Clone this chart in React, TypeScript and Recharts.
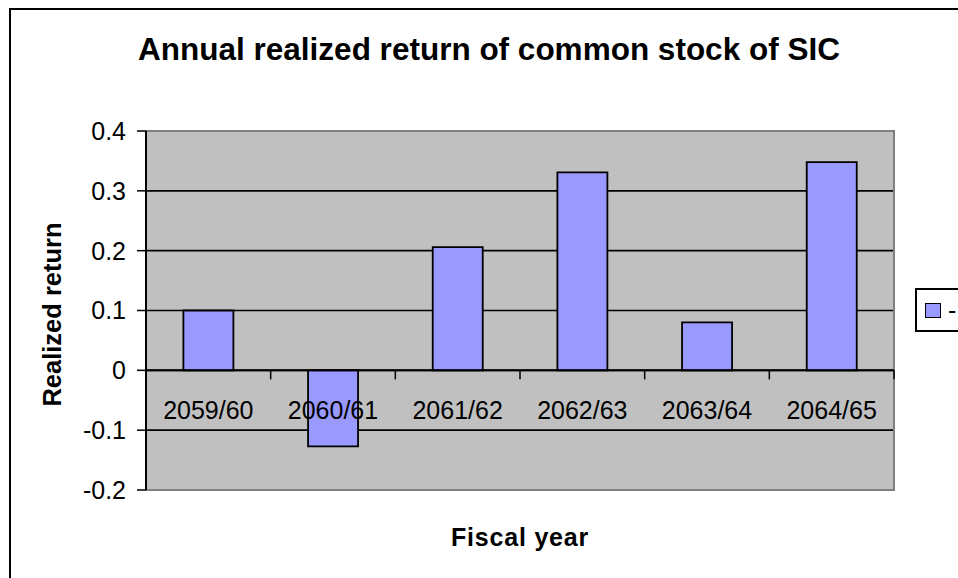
import { BarChart, Bar, XAxis, YAxis, CartesianGrid, ReferenceLine, ReferenceArea, Legend, Label } from 'recharts';

const years = ['2059/60', '2060/61', '2061/62', '2062/63', '2063/64', '2064/65'];
const realizedReturn = [0.1, -0.127, 0.206, 0.331, 0.08, 0.348];
const yTicks = [-0.2, -0.1, 0, 0.1, 0.2, 0.3, 0.4];
const seriesName = '-';

const data = years.map((year, i) => ({ year, value: realizedReturn[i] }));

const FONT = '"Liberation Sans", Arial, sans-serif';
const W = 958;
const H = 578;
const PLOT_TOP = 131;
const PLOT_LEFT = 146;
const PLOT_RIGHT = 894;
const PLOT_BOTTOM = 490;
const Y_MIN = yTicks[0];
const Y_MAX = yTicks[yTicks.length - 1];
// where the value 0 falls, so the category labels can hang off it
const ZERO_Y = PLOT_TOP + ((Y_MAX - 0) / (Y_MAX - Y_MIN)) * (PLOT_BOTTOM - PLOT_TOP);
const BAND = (PLOT_RIGHT - PLOT_LEFT) / years.length;

function YearTick(props: any) {
  const { x, index, payload } = props;
  const left = x - BAND / 2;
  return (
    <g>
      <line x1={left} x2={left} y1={ZERO_Y} y2={ZERO_Y + 9} stroke="#000" strokeWidth={1.5} />
      {index === years.length - 1 && (
        <line x1={left + BAND} x2={left + BAND} y1={ZERO_Y} y2={ZERO_Y + 9} stroke="#000" strokeWidth={1.5} />
      )}
      <text x={x} y={ZERO_Y + 40} textAnchor="middle" dominantBaseline="central" fontSize={25} fontFamily={FONT} fill="#000">
        {payload.value}
      </text>
    </g>
  );
}

function LegendBox(props: any) {
  const name = props.payload && props.payload[0] ? props.payload[0].value : seriesName;
  return (
    <div
      style={{
        boxSizing: 'border-box',
        width: 90,
        height: 44,
        border: '2px solid #000',
        background: '#fff',
        display: 'flex',
        alignItems: 'center',
        paddingLeft: 8,
        fontFamily: FONT,
        fontSize: 25,
        color: '#000',
      }}
    >
      <span
        style={{
          display: 'inline-block',
          boxSizing: 'border-box',
          width: 16,
          height: 15,
          background: '#9999FF',
          border: '1.5px solid #000',
          marginRight: 7,
        }}
      />
      <span>{name}</span>
    </div>
  );
}

export default function App() {
  return (
    <div style={{ position: 'absolute', left: 0, top: 0, width: W, height: H, overflow: 'hidden', background: '#fff' }}>
      <div
        style={{
          position: 'absolute',
          left: 9,
          top: 8,
          width: 2000,
          height: 2000,
          borderTop: '2px solid #000',
          borderLeft: '2px solid #000',
        }}
      />
      <div
        style={{
          position: 'absolute',
          left: 10,
          top: 34,
          width: W,
          textAlign: 'center',
          fontFamily: FONT,
          fontWeight: 'bold',
          fontSize: 31.5,
          lineHeight: 1,
          color: '#000',
        }}
      >
        Annual realized return of common stock of SIC
      </div>
      <div style={{ position: 'absolute', left: 0, top: 0 }}>
        <BarChart
          width={W}
          height={H}
          data={data}
          margin={{ top: PLOT_TOP, right: W - PLOT_RIGHT, bottom: 0, left: 0 }}
          barCategoryGap="30%"
        >
          <CartesianGrid vertical={false} fill="#C0C0C0" stroke="#000" strokeWidth={1.6} />
          <ReferenceArea y1={Y_MIN} y2={Y_MAX} fill="none" stroke="#808080" strokeWidth={2} />
          <Bar dataKey="value" name={seriesName} fill="#9999FF" stroke="#000" strokeWidth={1.8} isAnimationActive={false} />
          <ReferenceLine y={0} stroke="#000" strokeWidth={2} />
          <YAxis
            width={PLOT_LEFT}
            domain={[Y_MIN, Y_MAX]}
            ticks={yTicks}
            interval={0}
            tickFormatter={(v: number) => String(v)}
            tick={{ fill: '#000', fontSize: 25, fontFamily: FONT }}
            tickSize={9}
            tickMargin={11}
            axisLine={{ stroke: '#000', strokeWidth: 2 }}
            tickLine={{ stroke: '#000', strokeWidth: 1.5 }}
          >
            <Label
              value="Realized return"
              angle={-90}
              position="center"
              dx={-21}
              dy={4}
              fontSize={25.5}
              fontWeight="bold"
              fontFamily={FONT}
              fill="#000"
            />
          </YAxis>
          <XAxis
            dataKey="year"
            height={H - PLOT_BOTTOM}
            interval={0}
            axisLine={false}
            tickLine={false}
            tick={<YearTick />}
          >
            <Label
              value="Fiscal year"
              position="center"
              dy={3}
              fontSize={25}
              fontWeight="bold"
              fontFamily={FONT}
              fill="#000"
              letterSpacing={0.8}
            />
          </XAxis>
          <Legend
            align="center"
            verticalAlign="middle"
            content={<LegendBox />}
            wrapperStyle={{ position: 'absolute', left: 915, top: 288, width: 'auto', height: 'auto' }}
          />
        </BarChart>
      </div>
    </div>
  );
}
